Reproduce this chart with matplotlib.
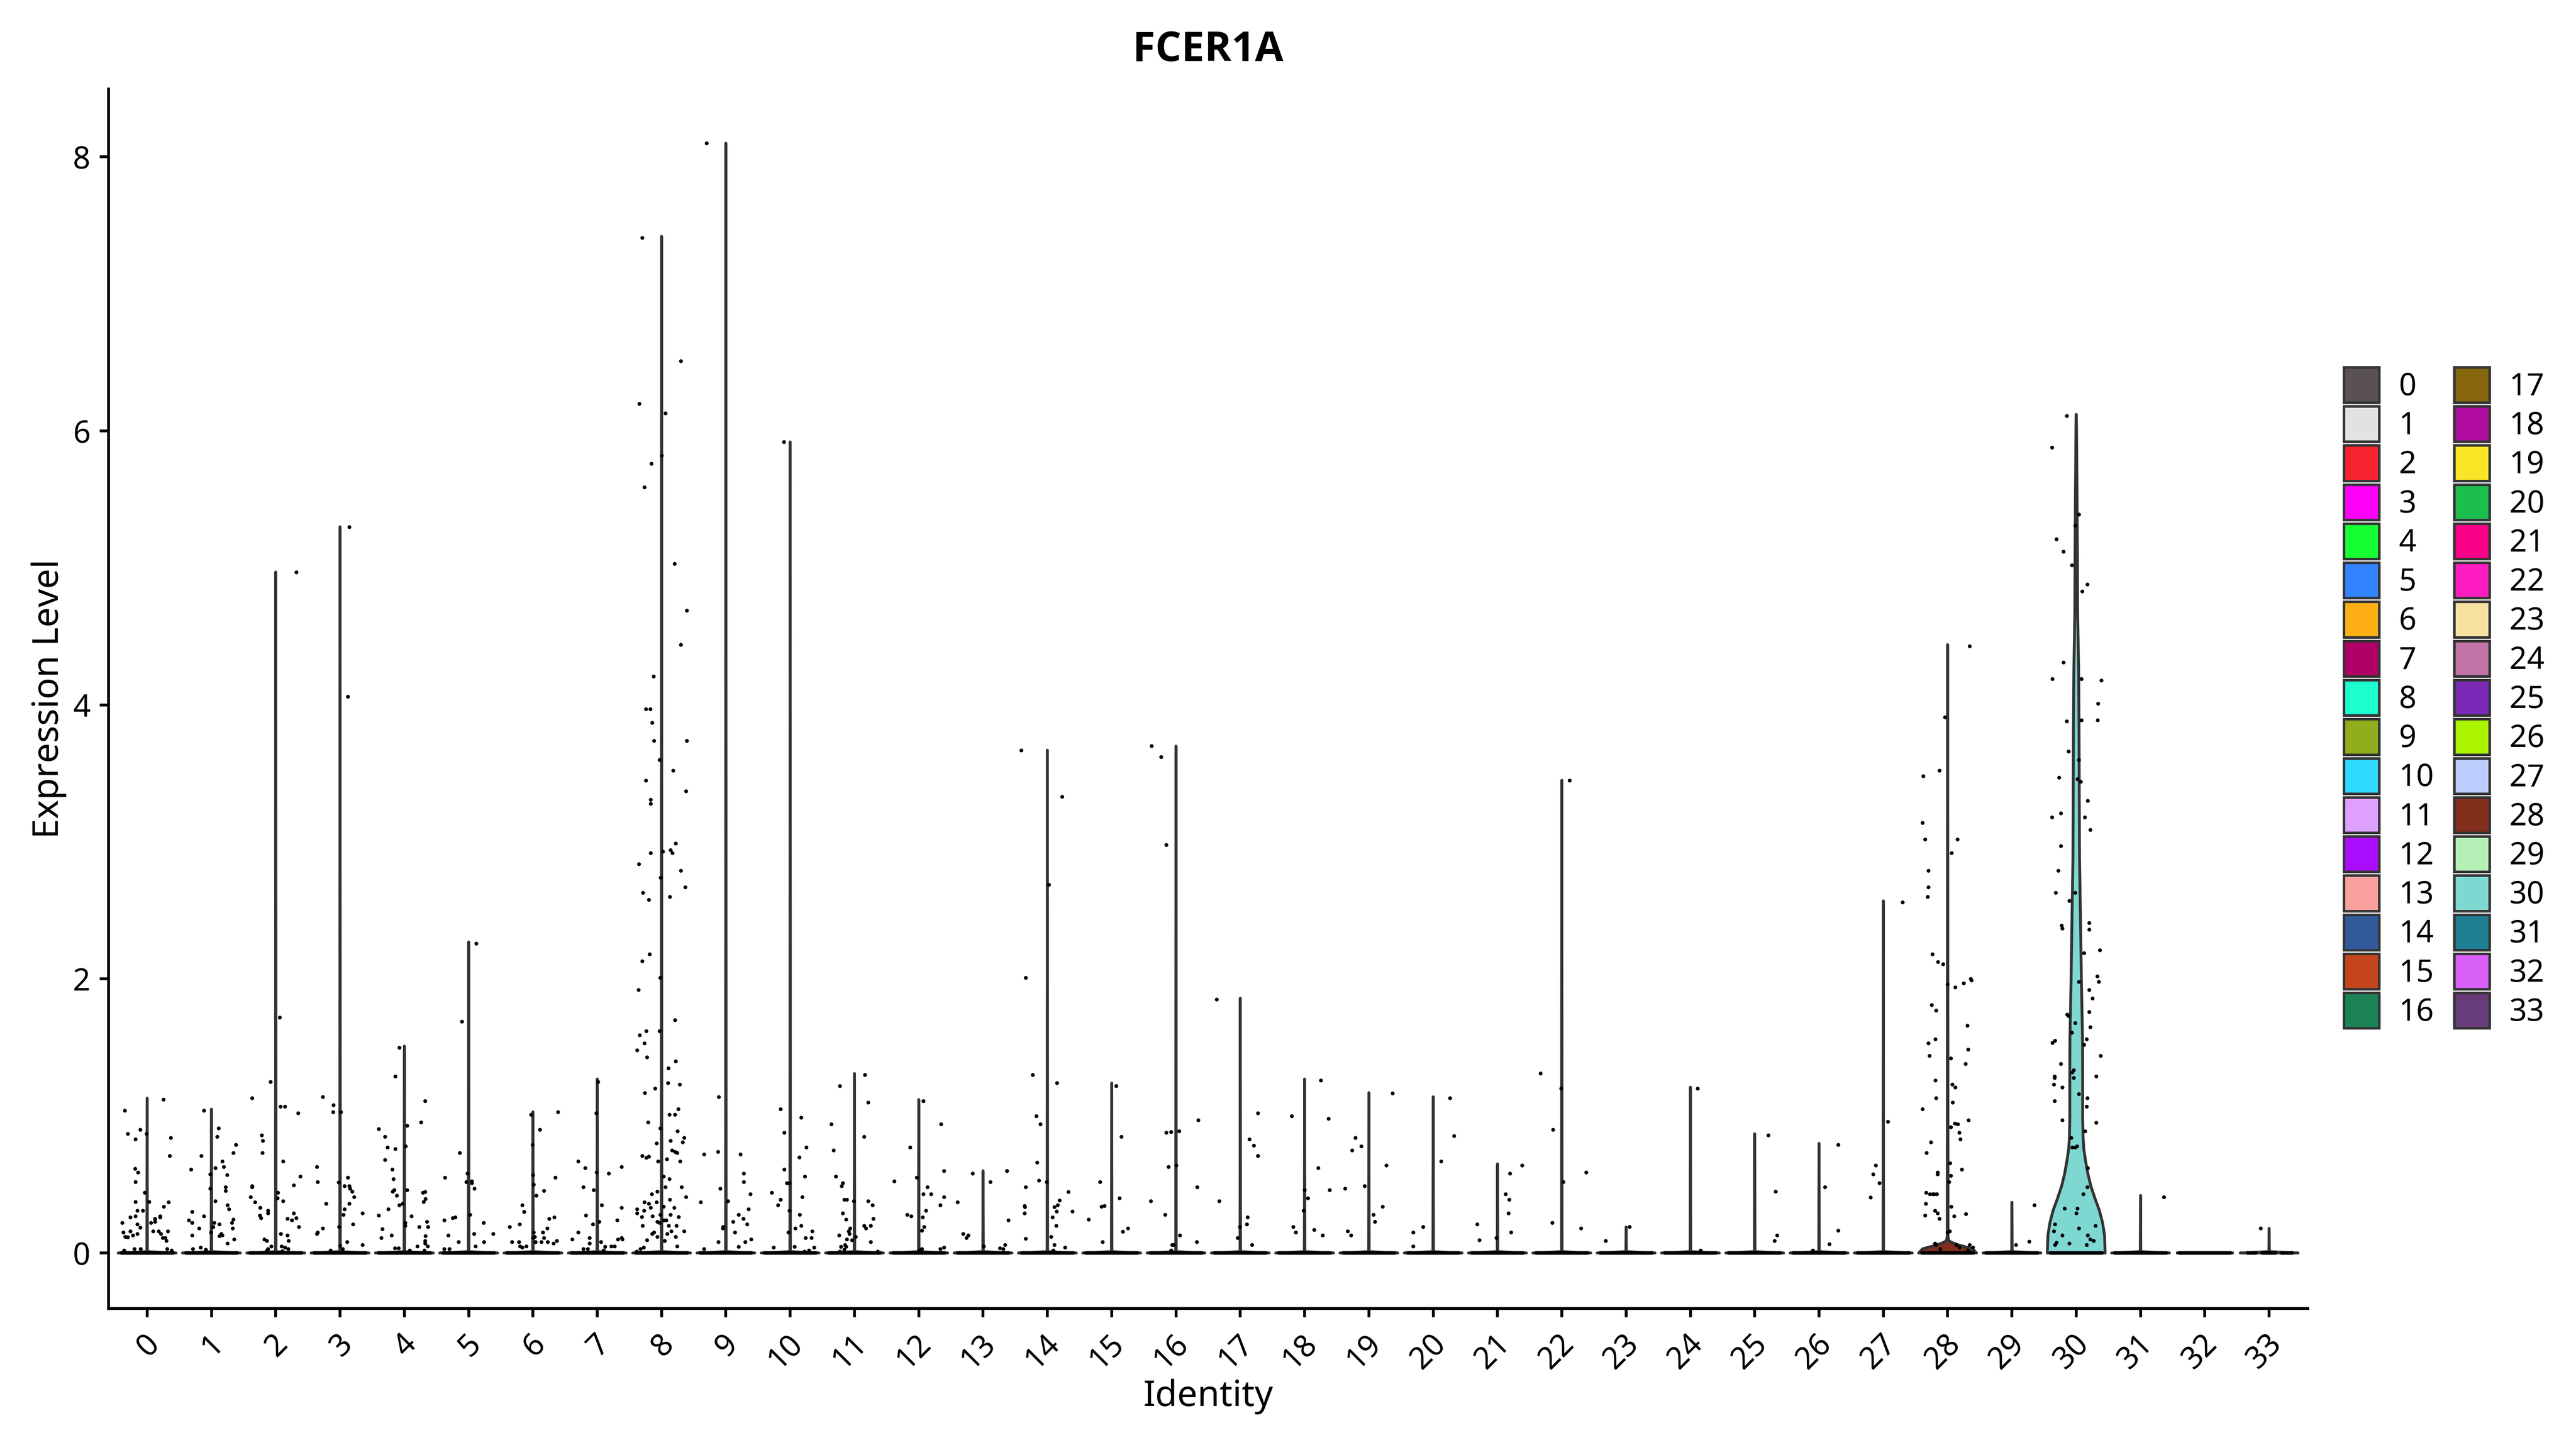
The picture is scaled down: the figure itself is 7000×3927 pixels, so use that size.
import numpy as np
import matplotlib
matplotlib.use("Agg")
import matplotlib.pyplot as plt
from matplotlib.patches import Patch, Polygon
from matplotlib.transforms import ScaledTranslation

identities = [str(i) for i in range(34)]
palette = ["#5A5156", "#E4E1E3", "#F6222E", "#FE00FA", "#16FF32", "#3283FE", "#FEAF16", "#B00068",
           "#1CFFCE", "#90AD1C", "#2ED9FF", "#DEA0FD", "#AA0DFE", "#F8A19F", "#325A9B", "#C4451C",
           "#1C8356", "#85660D", "#B10DA1", "#FBE426", "#1CBE4F", "#FA0087", "#FC1CBF", "#F7E1A0",
           "#C075A6", "#782AB6", "#AAF400", "#BDCDFF", "#822E1C", "#B5EFB5", "#7ED7D1", "#1C7F93",
           "#D85FF7", "#683B79"]

# maximum expression per identity (top of each violin)
max_expr = [1.13, 1.05, 4.97, 5.30, 1.51, 2.27, 1.03, 1.27, 7.42, 8.10, 5.92, 1.31, 1.12, 0.60, 3.67, 1.24, 3.70,
            1.86, 1.27, 1.17, 1.14, 0.65, 3.45, 0.19, 1.21, 0.87, 0.80, 2.57, 4.44, 0.37, 6.12, 0.42, 0.0, 0.18]

# violin outlines that are more than a spike: expression level, half width
violin_28_y = [0, 0.03, 0.06, 0.077, 0.09, 0.12, 0.4, 1.2, 3.0, 4.44]
violin_28_w = [0.45, 0.39, 0.16, 0.065, 0.018, 0.006, 0.006, 0.004, 0.002, 0]
violin_30_y = [0, 0.13, 0.22, 0.31, 0.40, 0.49, 0.58, 0.67, 0.76, 0.85, 0.98, 1.33, 1.56, 2.0, 2.45, 2.89, 3.34,
               3.78, 4.23, 4.67, 5.12, 5.56, 6.0, 6.12]
violin_30_w = [0.45, 0.44, 0.41, 0.36, 0.29, 0.226, 0.18, 0.146, 0.117, 0.106, 0.10, 0.10, 0.098, 0.08, 0.066,
               0.051, 0.047, 0.044, 0.038, 0.022, 0.018, 0.012, 0.005, 0.002]

# non-zero cells: (jitter offset from the identity, expression)
cluster_0 = [(.25, 1.12), (-.35, 1.04), (-.30, .87), (-.11, .90), (-.01, .87), (-.18, .83), (.37, .84), (.35, .71),
             (-.19, .615), (-.14, .59), (-.18, .52), (-.04, .44), (-.18, .375), (.03, .375), (.33, .37), (.26, .34),
             (-.155, .31), (-.07, .31), (-.26, .26), (-.18, .27), (.20, .27), (.20, .26), (.12, .25), (.12, .23),
             (.06, .22), (-.39, .22), (-.155, .21), (-.11, .185), (-.26, .16), (-.37, .15), (.18, .16), (.09, .16),
             (.32, .16), (-.155, .14), (-.22, .13), (-.34, .12), (-.30, .115), (.21, .14), (.28, .11), (.24, .11),
             (.30, .09), (-.20, .03), (-.10, .03), (-.36, .02), (.31, .03), (.38, .02)]
cluster_1 = [(-.12, 1.04), (.11, .91), (.09, .85), (.38, .79), (.34, .73), (-.16, .71), (.17, .67), (.19, .63),
             (.06, .62), (-.32, .61), (-.02, .575), (.24, .57), (-.02, .47), (.22, .48), (.22, .455), (.06, .38),
             (.25, .35), (.27, .32), (-.30, .30), (-.12, .27), (.34, .245), (-.35, .24), (-.30, .22), (.04, .22),
             (.32, .22), (.12, .21), (.025, .19), (.33, .18), (-.19, .18), (-.01, .15), (-.30, .13), (.15, .14),
             (.17, .13), (.12, .125), (.35, .10), (.25, .07), (-.29, .03), (-.17, .04), (-.09, .025)]
cluster_2 = [(.32, 4.97), (.06, 1.72), (-.08, 1.25), (-.37, 1.13), (.07, 1.07), (.14, 1.07), (.35, 1.02), (-.22, .86),
             (-.20, .82), (-.21, .73), (.11, .67), (.38, .56), (-.37, .49), (-.37, .48), (.28, .495), (.03, .44),
             (-.39, .41), (.025, .40), (.11, .38), (-.32, .37), (-.24, .33), (-.12, .31), (-.12, .29), (.28, .29),
             (-.25, .275), (-.23, .255), (.18, .25), (.25, .24), (.32, .255), (.36, .19), (.08, .14), (.18, .13),
             (-.18, .10), (-.14, .09), (.20, .09), (.09, .05), (-.07, .05), (-.12, .03), (.14, .04), (.19, .03),
             (-.14, .02), (.10, .015)]
cluster_3 = [(.14, 5.30), (.12, 4.06), (-.27, 1.14), (-.105, 1.08), (-.11, 1.03), (.01, 1.03), (-.36, .63), (.12, .55),
             (-.35, .52), (-.025, .515), (.07, .49), (.14, .49), (.155, .47), (.19, .45), (.22, .41), (-.22, .36),
             (.14, .36), (.07, .32), (.05, .28), (.35, .29), (.20, .21), (-.02, .19), (-.27, .18), (-.35, .15),
             (-.36, .14), (.11, .08), (0, .055), (.35, .06), (.04, .03), (-.15, .02)]
cluster_4 = [(-.08, 1.50), (-.14, 1.29), (.32, 1.11), (.26, .955), (.04, .93), (-.40, .905), (-.30, .85), (.02, .78),
             (-.26, .77), (-.14, .76), (-.30, .68), (-.19, .61), (-.17, .54), (-.16, .46), (-.18, .45), (.04, .46),
             (.285, .44), (.32, .445), (-.12, .42), (.33, .395), (.30, .375), (-.03, .36), (-.08, .35), (-.25, .32),
             (-.40, .275), (.11, .27), (.01, .22), (.35, .23), (.01, .20), (.23, .19), (.37, .19), (-.34, .175),
             (-.20, .13), (.33, .125), (-.36, .11), (.32, .09), (.32, .07), (.36, .05), (.20, .05), (-.15, .035),
             (-.09, .035), (.08, .02), (.31, .02)]
cluster_5 = [(.12, 2.26), (-.105, 1.69), (-.14, .73), (-.37, .55), (-.02, .58), (-.04, .52), (.05, .525), (.05, .51),
             (.09, .47), (.02, .28), (-.38, .24), (-.25, .255), (-.21, .26), (.23, .22), (-.32, .13), (.08, .14),
             (.38, .14), (-.16, .08), (.24, .08), (.105, .05), (-.38, .03), (-.30, .03)]
cluster_6 = [(-.03, 1.01), (.39, 1.03), (.11, .90), (-.01, .79), (0, .57), (.35, .55), (.01, .50), (.17, .455),
             (.05, .42), (-.17, .35), (-.14, .30), (.25, .25), (.33, .26), (-.36, .19), (-.21, .21), (.22, .18),
             (.01, .15), (.155, .15), (.025, .12), (0, .11), (.17, .11), (-.33, .08), (-.22, .08), (.04, .08),
             (.13, .08), (.23, .08), (.32, .07), (.37, .09), (-.20, .05), (-.17, .04), (-.105, .05)]
cluster_7 = [(.01, 1.25), (-.02, 1.02), (-.30, .67), (-.19, .62), (.38, .63), (-.01, .59), (.18, .58), (-.22, .48),
             (-.06, .46), (.07, .35), (.38, .33), (-.18, .275), (.03, .23), (.31, .24), (-.07, .21), (-.30, .15),
             (-.12, .11), (-.39, .10), (.38, .11), (.39, .10), (.32, .10), (-.12, .07), (.06, .08), (.22, .05),
             (.27, .05), (.12, .045), (-.22, .03), (-.15, .03), (.10, .02)]
cluster_8 = [(-.30, 7.41), (.30, 6.51), (-.35, 6.20), (.06, 6.13), (0, 5.82), (-.16, 5.76), (-.27, 5.59), (.20, 5.03),
             (.39, 4.69), (.30, 4.44), (-.125, 4.21), (-.245, 3.97), (-.175, 3.97), (-.15, 3.87), (.39, 3.74),
             (-.12, 3.74), (-.03, 3.60), (.18, 3.52), (-.245, 3.45), (.38, 3.37), (-.17, 3.31), (-.17, 3.28),
             (.22, 2.99), (.14, 2.94), (.17, 2.92), (-.17, 2.92), (.02, 2.93), (-.355, 2.84), (.30, 2.79),
             (-.015, 2.74), (.37, 2.67), (-.29, 2.63), (.13, 2.60), (-.20, 2.58), (-.19, 2.18), (-.30, 2.13),
             (-.02, 2.01), (-.36, 1.92), (.21, 1.70), (-.03, 1.62), (-.24, 1.62), (-.34, 1.59), (-.27, 1.53),
             (-.38, 1.48), (-.23, 1.43), (.22, 1.40), (.105, 1.35), (.10, 1.24), (.28, 1.23), (-.26, 1.17),
             (-.10, 1.20), (.26, 1.05), (.12, 1.01), (.21, 1.01), (-.21, .955), (-.02, .91), (.245, .89), (.35, .84),
             (.33, .81), (.14, .82), (-.08, .80), (.16, .75), (.21, .74), (.24, .73), (-.30, .71), (-.24, .695),
             (-.20, .705), (.08, .685), (-.055, .67), (.29, .67), (.03, .56), (.12, .54), (.06, .48), (.31, .48),
             (-.07, .45), (-.155, .43), (.38, .41), (.13, .39), (-.27, .37), (-.20, .36), (-.08, .37), (-.17, .33),
             (-.38, .32), (.03, .34), (.195, .33), (-.275, .31), (-.38, .29), (-.31, .265), (-.14, .27), (-.02, .28),
             (.14, .28), (.265, .265), (-.295, .20), (-.07, .23), (-.03, .22), (.035, .24), (.07, .24), (.11, .20),
             (.23, .20), (.15, .16), (.09, .14), (-.15, .14), (-.12, .15), (.35, .16), (-.07, .12), (.22, .12),
             (-.225, .095), (.05, .09), (.24, .05), (-.28, .04), (-.33, .03), (-.39, .01)]
cluster_9 = [(-.30, 8.10), (-.11, 1.14), (-.34, .72), (-.125, .74), (.227, .72), (.28, .58), (.28, .52), (-.09, .47),
             (.38, .43), (.03, .38), (-.39, .37), (.35, .32), (.20, .28), (.27, .25), (.11, .23), (.33, .21),
             (-.04, .19), (-.05, .18), (.14, .15), (.39, .10), (-.12, .08), (.30, .08), (.20, .045), (-.34, .03)]
cluster_10 = [(-.10, 5.92), (-.15, 1.05), (.17, .99), (-.095, .88), (.25, .77), (.14, .70), (-.09, .61), (.23, .56),
              (-.01, .51), (-.05, .51), (-.29, .44), (.19, .41), (-.15, .39), (-.19, .35), (-.01, .31), (.15, .28),
              (.17, .20), (.08, .18), (.34, .16), (-.03, .15), (.24, .11), (.33, .11), (-.26, .04), (.07, .045),
              (.37, .04), (.29, .02), (.22, .01)]
cluster_11 = [(.16, 1.30), (-.23, 1.22), (.21, 1.10), (-.36, .94), (.15, .85), (-.325, .75), (-.29, .56), (-.18, .51),
              (-.20, .49), (-.16, .39), (-.12, .39), (-.01, .38), (.21, .38), (.28, .35), (-.18, .29), (.29, .25),
              (-.13, .245), (.15, .20), (.25, .20), (-.07, .18), (.18, .18), (-.09, .16), (-.08, .14), (-.24, .13),
              (.02, .12), (-.12, .10), (-.04, .095), (.25, .08), (-.15, .06), (-.21, .045), (-.13, .045),
              (-.16, .025), (-.23, .01), (.36, .01)]
cluster_12 = [(.07, 1.11), (.345, .94), (-.135, .77), (.39, .60), (-.03, .55), (-.38, .525), (.135, .48), (.07, .43),
              (.19, .43), (.39, .41), (.335, .35), (.11, .31), (-.18, .28), (-.12, .27), (.06, .26), (.08, .19),
              (.05, .165), (.39, .04), (.335, .03), (.05, .03), (.01, .02)]
cluster_13 = [(-.16, .58), (.37, .60), (.11, .52), (-.40, .37), (.39, .24), (-.31, .14), (-.23, .13), (-.26, .11),
              (.01, .05), (.34, .06), (.26, .035), (.31, .03)]
cluster_14 = [(-.41, 3.67), (.02, 2.69), (.23, 3.33), (-.34, 2.01), (-.23, 1.30), (.15, 1.24), (-.17, 1.00),
              (-.11, .94), (-.16, .66), (-.13, .53), (-.01, .52), (-.34, .48), (.325, .445), (.19, .385), (.16, .35),
              (-.355, .345), (-.35, .335), (.105, .335), (.145, .305), (.39, .305), (-.355, .29), (.08, .26),
              (.135, .20), (.055, .12), (-.34, .105), (.11, .06), (.275, .04), (.09, .02)]
cluster_15 = [(.07, 1.22), (.15, .85), (-.18, .52), (.12, .40), (-.115, .345), (-.16, .34), (-.36, .245), (.25, .18),
              (.17, .155), (-.145, .08)]
cluster_16 = [(-.38, 3.70), (-.23, 3.62), (-.15, 2.98), (.345, .97), (.05, .89), (-.08, .885), (-.15, .88), (-.12, .63),
              (0, .64), (.33, .48), (-.39, .38), (-.17, .28), (.06, .13), (.32, .08), (-.06, .06), (-.04, .06),
              (-.08, .02)]
cluster_17 = [(-.37, 1.85), (.275, 1.02), (.14, .83), (.21, .785), (.27, .71), (-.33, .38), (.11, .26), (.10, .21),
              (-.01, .19), (-.04, .11), (.18, .06)]
cluster_18 = [(.25, 1.26), (-.20, 1.00), (.37, .98), (.21, .62), (.39, .46), (0, .46), (.05, .40), (-.02, .31),
              (-.18, .19), (-.14, .15), (.15, .17), (.28, .13)]
cluster_19 = [(.37, 1.165), (-.21, .84), (-.12, .78), (-.26, .75), (.27, .64), (-.07, .49), (-.37, .47), (.21, .34),
              (.07, .28), (.09, .23), (-.33, .16), (-.28, .13)]
cluster_20 = [(.26, 1.13), (.325, .855), (.12, .67), (-.16, .19), (-.315, .15), (-.31, .05)]
cluster_21 = [(.38, .64), (.19, .58), (.125, .43), (.18, .39), (.17, .29), (-.315, .21), (.21, .15), (-.02, .11),
              (-.28, .095)]
cluster_22 = [(.12, 3.45), (-.33, 1.31), (-.01, 1.20), (-.14, .90), (.38, .59), (.02, .52), (-.15, .22), (.30, .18)]
cluster_23 = [(.055, .19), (-.32, .09)]
cluster_24 = [(.11, 1.20), (.16, .02)]
cluster_25 = [(.21, .86), (.325, .45), (.35, .13), (.31, .09)]
cluster_26 = [(.295, .79), (.09, .48), (.295, .165), (.16, .065), (-.10, .02)]
cluster_27 = [(.30, 2.56), (.07, .96), (-.12, .64), (-.16, .575), (-.06, .51), (-.20, .405)]
cluster_28 = [(.34, 4.43), (-.04, 3.91), (-.13, 3.52), (-.38, 3.48), (-.39, 3.14), (-.35, 3.02), (.15, 3.02),
              (.06, 2.92), (-.30, 2.79), (-.30, 2.67), (-.31, 2.60), (-.24, 2.18), (-.15, 2.125), (-.07, 2.11),
              (.355, 2.00), (.37, 1.99), (.25, 1.97), (0, 1.96), (.115, 1.94), (-.25, 1.81), (-.18, 1.77),
              (.305, 1.66), (-.19, 1.56), (-.30, 1.53), (.32, 1.485), (-.285, 1.44), (.05, 1.42), (.28, 1.38),
              (-.19, 1.26), (.07, 1.23), (.115, 1.21), (-.18, 1.13), (.075, 1.10), (-.39, 1.05), (.325, .97),
              (.11, .945), (.16, .94), (.05, .92), (.18, .88), (.20, .83), (-.26, .81), (-.33, .73), (.04, .655),
              (.22, .61), (-.16, .59), (-.16, .575), (.05, .565), (.02, .52), (-.335, .44), (-.28, .43), (-.23, .43),
              (-.21, .43), (-.17, .43), (-.34, .36), (.055, .34), (-.20, .31), (-.16, .29), (-.35, .275), (.285, .285),
              (.10, .27), (-.13, .25), (.03, .16), (0, .15), (-.20, .07), (-.18, .06), (.135, .06), (.34, .06),
              (.18, .04), (.39, .04), (-.12, .03), (.31, .02)]
cluster_29 = [(.35, .35), (.27, .085), (.06, .06)]
cluster_30 = [(-.146, 6.11), (-.38, 5.88), (.04, 5.39), (-.015, 5.31), (-.31, 5.21), (-.20, 5.12), (-.066, 5.02),
              (.17, 4.88), (.09, 4.83), (-.20, 4.31), (-.37, 4.19), (.08, 4.19), (.39, 4.18), (.34, 4.01), (.33, 3.89),
              (-.15, 3.88), (.08, 3.89), (-.12, 3.66), (.04, 3.60), (-.27, 3.47), (.015, 3.46), (.07, 3.44), (.18, 3.30),
              (-.376, 3.18), (-.24, 3.21), (.13, 3.18), (.215, 3.09), (-.24, 2.97), (-.28, 2.79), (-.32, 2.63),
              (-.015, 2.63), (-.11, 2.57), (.20, 2.41), (.20, 2.36), (-.23, 2.39), (-.215, 2.37), (.12, 2.19),
              (.365, 2.21), (.325, 2.02), (.35, 1.98), (.04, 1.98), (.20, 1.92), (.25, 1.86), (.20, 1.76), (-.14, 1.74),
              (-.12, 1.73), (-.015, 1.68), (.22, 1.65), (-.07, 1.61), (.16, 1.56), (-.33, 1.55), (-.37, 1.535),
              (.12, 1.52), (.38, 1.44), (-.24, 1.38), (-.04, 1.335), (-.06, 1.32), (-.34, 1.29), (-.34, 1.28),
              (-.04, 1.28), (.31, 1.29), (-.35, 1.23), (-.22, 1.21), (.04, 1.16), (.17, 1.13), (-.34, 1.11), (.16, 1.07),
              (-.22, .97), (.31, .95), (.135, .89), (-.08, .84), (-.06, .77), (-.015, .77), (.01, .78), (.175, .62),
              (.17, .48), (.11, .43), (-.18, .325), (.02, .325), (0, .29), (-.33, .21), (-.35, .16), (.30, .20),
              (.04, .18), (-.215, .13), (.18, .13), (.215, .10), (.27, .09), (-.31, .075), (-.33, .06), (-.11, .07),
              (.16, .06)]
cluster_31 = [(.36, .41)]
cluster_32 = []
cluster_33 = [(-.13, .18)]

all_clusters = [cluster_0, cluster_1, cluster_2, cluster_3, cluster_4, cluster_5, cluster_6, cluster_7, cluster_8,
                cluster_9, cluster_10, cluster_11, cluster_12, cluster_13, cluster_14, cluster_15, cluster_16,
                cluster_17, cluster_18, cluster_19, cluster_20, cluster_21, cluster_22, cluster_23, cluster_24,
                cluster_25, cluster_26, cluster_27, cluster_28, cluster_29, cluster_30, cluster_31, cluster_32,
                cluster_33]

# zero cells: extent of the solid black band; identity 33 has few cells, so its band has gaps
zero_band = 0.40
zero_33_from = [-.33, -.104, .196]
zero_33_to = [-.207, .098, .359]

W, H = 7000, 3927
DPI = 600
OUTLINE = "#333333"
plt.rcParams.update({"font.family": ["Noto Sans", "DejaVu Sans"], "font.size": 10})

fig = plt.figure(figsize=(W / DPI, H / DPI), dpi=DPI, facecolor="white")
left, right, top, bottom = 295, 6271, 242, 3556
ax = fig.add_axes([left / W, 1 - bottom / H, (right - left) / W, (bottom - top) / H])

for i, peak in enumerate(max_expr):
    if i == 28:
        ys, ws = np.array(violin_28_y), np.array(violin_28_w)
    elif i == 30:
        ys, ws = np.array(violin_30_y), np.array(violin_30_w)
    elif peak > 0:
        # every other identity is nearly all zeros: a flat foot and a bare spike
        ys, ws = np.array([0, 0.01, peak]), np.array([0.45, 0.004, 0])
    else:
        ys, ws = np.array([0, 0.0]), np.array([0.45, 0.45])
    outline = np.r_[np.c_[i - ws, ys], np.c_[i + ws, ys][::-1]]
    ax.add_patch(Polygon(outline, closed=True, fc=palette[i], ec=OUTLINE, lw=0.92, joinstyle="round", zorder=2))

    pts = np.array(all_clusters[i]).reshape(-1, 2)
    ax.scatter(i + pts[:, 0], pts[:, 1], s=1.55, c="black", linewidths=0, zorder=3)

# cells at exactly zero overlap into a solid band across the jitter width
zero_x = np.arange(33)
ax.hlines(np.zeros(33), zero_x - zero_band, zero_x + zero_band, color="black", lw=1.2, capstyle="round", zorder=4)
ax.hlines(np.zeros(3), 33 + np.array(zero_33_from), 33 + np.array(zero_33_to), color="black", lw=1.2,
          capstyle="round", zorder=4)

ax.set_xlim(-0.6, 33.6)
ax.set_ylim(-0.405, 8.495)
ax.set_xticks(np.arange(len(identities)))
ax.set_xticklabels(identities, rotation=45, ha="right", va="top")
ax.set_yticks([0, 2, 4, 6, 8])
ax.tick_params(axis="both", length=2.9, width=0.92, color="black", labelcolor="black", labelsize=10)
ax.tick_params(axis="y", pad=3)
ax.tick_params(axis="x", pad=3.6)
# labels hang from their right end, which sits just past the tick
shift = ScaledTranslation(50 / DPI, 0, fig.dpi_scale_trans)
for lab in ax.get_xticklabels():
    lab.set_transform(lab.get_transform() + shift)
for side in ("top", "right"):
    ax.spines[side].set_visible(False)
for side in ("left", "bottom"):
    ax.spines[side].set_linewidth(0.92)

ax.set_title("FCER1A", fontsize=13.4, fontweight="bold", family=["Open Sans", "DejaVu Sans"], pad=0, y=1.0229)
ax.set_xlabel("Identity", fontsize=11.7)
ax.set_ylabel("Expression Level", fontsize=11.7)
ax.xaxis.set_label_coords(0.5, -0.0575)
ax.yaxis.set_label_coords(-0.019, 0.5)

handles = [Patch(fc=c, ec=OUTLINE, lw=0.84, label=lab) for c, lab in zip(palette, identities)]
fig.legend(handles=handles, ncol=2, frameon=False, loc="upper left", bbox_to_anchor=(6369 / W, 1 - 998 / H),
           borderaxespad=0, borderpad=0, fontsize=10, handlelength=1.155, handleheight=1.40, labelspacing=0.12,
           handletextpad=0.64, columnspacing=0.66)

fig.savefig("out.png", dpi=DPI, facecolor="white")
